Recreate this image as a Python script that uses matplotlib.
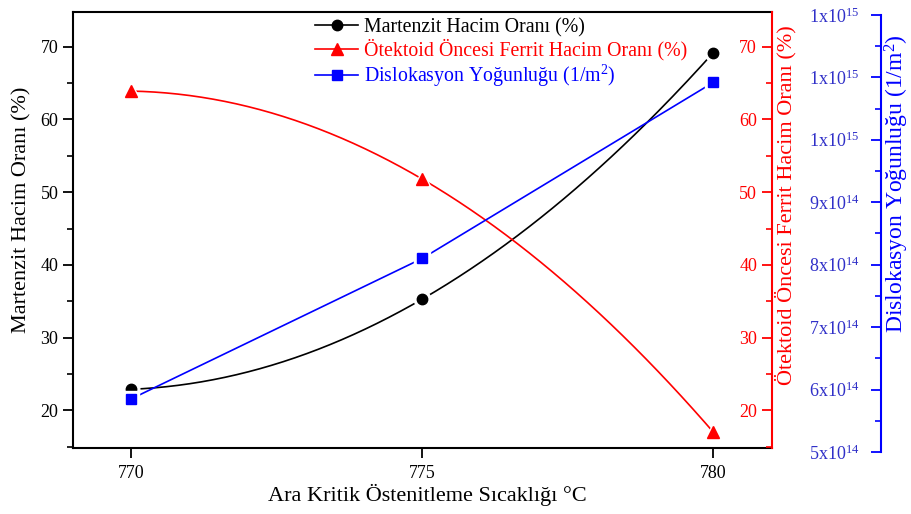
"""
Interkritik ostenitleme sicakligina gore martenzit / ferrit hacim orani
ve dislokasyon yogunlugu - uc eksenli grafik.
"""

import numpy as np
import matplotlib
matplotlib.use("Agg")
import matplotlib.pyplot as plt
from matplotlib.ticker import MultipleLocator, FuncFormatter

plt.rcParams["font.family"] = ["Liberation Serif", "DejaVu Serif"]
plt.rcParams["mathtext.fontset"] = "custom"
plt.rcParams["mathtext.rm"] = "Liberation Serif"
plt.rcParams["mathtext.it"] = "Liberation Serif:italic"

# ---------------------------------------------------------------------------
# Data
# ---------------------------------------------------------------------------
temps = [770, 775, 780]
martensite = [22.9, 35.3, 69.2]            # %
ferrite = [63.9, 51.8, 17.0]               # %
dislocation = [5.85e14, 8.1e14, 1.092e15]  # 1/m^2

LBL_M = "Martenzit Hacim Oranı (%)"
LBL_F = "Ötektoid Öncesi Ferrit Hacim Oranı (%)"
LBL_D = "Dislokasyon Yoğunluğu (1/m$^2$)"
XLABEL = "Ara Kritik Östenitleme Sıcaklığı °C"

RED = "#ff0000"
BLUE = "#0000ff"
FS = 13

# axes geometry (figure fractions)
AX_L, AX_W = 0.080, 0.767
BLUE_SPINE_X = 1.157   # blue spine position, in axes fractions


def smooth(x, y, n=200):
    """Quadratic curve through the three points (spline-like connection)."""
    c = np.polyfit(x, y, 2)
    xs = np.linspace(min(x), max(x), n)
    return xs, np.polyval(c, xs)


def sci_fmt(v, _pos):
    e = int(np.floor(np.log10(v) + 1e-9))
    m = v / 10 ** e
    return f"{m:.0f}x10$^{{{e}}}$"


def place_label(axis, x, y):
    """Put an axis label with its centre at (x, y) in axes fractions."""
    axis.set_label_coords(x, y)
    axis.label.set_va("center")
    axis.label.set_ha("center")


fig = plt.figure(figsize=(9.11, 5.14), dpi=100)
ax = fig.add_axes([AX_L, 0.128, AX_W, 0.849])
ax_r = fig.add_axes([AX_L, 0.128, AX_W, 0.849], sharex=ax)
ax_b = fig.add_axes([AX_L, 0.1206, AX_W, 0.8504], sharex=ax)

# --- lines
xs, ys = smooth(temps, martensite)
ax.plot(xs, ys, color="black", lw=1.2, zorder=2)
xs, ys = smooth(temps, ferrite)
ax_r.plot(xs, ys, color=RED, lw=1.2, zorder=2)
ax_b.plot(temps, dislocation, color=BLUE, lw=1.2, zorder=2)

# --- white halos so lines stop short of the markers
ax.plot(temps, martensite, "o", color="white", ms=12, zorder=3)
ax_r.plot(temps, ferrite, "^", color="white", ms=13, zorder=3)
ax_b.plot(temps, dislocation, "s", color="white", ms=11, zorder=3)

# --- markers
ax.plot(temps, martensite, "o", color="black", ms=7.5, zorder=4)
ax_r.plot(temps, ferrite, "^", color=RED, ms=8.5, zorder=4)
ax_b.plot(temps, dislocation, "s", color=BLUE, ms=6.5, zorder=5)

# --- main (left) axis
ax.set_xlim(769, 781)
ax.set_ylim(14.8, 74.8)
ax.xaxis.set_major_locator(MultipleLocator(5))
ax.yaxis.set_major_locator(MultipleLocator(10))
ax.yaxis.set_minor_locator(MultipleLocator(5))
ax.tick_params(axis="both", which="major", length=7, width=1.3, labelsize=FS)
ax.tick_params(axis="y", which="minor", length=4, width=1.2)
ax.tick_params(axis="x", which="major", pad=5)
ax.set_ylabel(LBL_M, fontsize=16)
place_label(ax.yaxis, -0.073, 0.546)
ax.set_xlabel(XLABEL, fontsize=16)
place_label(ax.xaxis, 0.508, -0.108)
for s in ax.spines.values():
    s.set_linewidth(1.5)
ax.spines["right"].set_visible(False)

# --- red axis: spine on the right edge, ticks and labels inside the plot
ax_r.set_ylim(14.8, 74.8)
ax_r.patch.set_alpha(0)
ax_r.spines["left"].set_position(("axes", 1.0))
ax_r.yaxis.set_major_locator(MultipleLocator(10))
ax_r.yaxis.set_minor_locator(MultipleLocator(5))
ax_r.tick_params(axis="y", which="major", length=7, width=1.3,
                 labelsize=FS, colors=RED)
ax_r.tick_params(axis="y", which="minor", length=4, width=1.2, colors=RED)
ax_r.tick_params(axis="x", which="both", bottom=False, labelbottom=False)
ax_r.spines["left"].set_color(RED)
ax_r.spines["left"].set_linewidth(1.5)
for side in ("right", "top", "bottom"):
    ax_r.spines[side].set_visible(False)
ax_r.set_ylabel(LBL_F, fontsize=16, color=RED)
place_label(ax_r.yaxis, 1.020, 0.557)

# --- blue axis: separate spine further right, labels to its left
ax_b.set_ylim(5e14, 1.2e15)
ax_b.patch.set_alpha(0)
ax_b.spines["left"].set_position(("axes", BLUE_SPINE_X))
ax_b.yaxis.set_major_locator(MultipleLocator(1e14))
ax_b.yaxis.set_minor_locator(MultipleLocator(5e13))
ax_b.yaxis.set_major_formatter(FuncFormatter(sci_fmt))
ax_b.tick_params(axis="y", which="major", length=7, width=1.3,
                 labelsize=FS, colors=BLUE, labelcolor="#3030c8", pad=9)
ax_b.tick_params(axis="y", which="minor", length=4, width=1.2, colors=BLUE)
ax_b.tick_params(axis="x", which="both", bottom=False, labelbottom=False)
for side in ("right", "top", "bottom"):
    ax_b.spines[side].set_visible(False)
ax_b.spines["left"].set_color(BLUE)
ax_b.spines["left"].set_linewidth(1.5)
ax_b.set_ylabel(LBL_D, fontsize=17, color=BLUE)
place_label(ax_b.yaxis, 1.179, 0.613)

# --- legend
handles = [
    plt.Line2D([], [], color="black", marker="o", ms=7.5, lw=1.2),
    plt.Line2D([], [], color=RED, marker="^", ms=8.5, lw=1.2),
    plt.Line2D([], [], color=BLUE, marker="s", ms=6.5, lw=1.2),
]
leg = ax_b.legend(handles, [LBL_M, LBL_F, LBL_D], loc="upper center",
                  bbox_to_anchor=(0.613, 1.02), frameon=False, fontsize=14.3,
                  handlelength=2.2, handletextpad=0.3, labelspacing=0.1,
                  borderaxespad=0.2)
for txt, col in zip(leg.get_texts(), ["black", RED, BLUE]):
    txt.set_color(col)

fig.savefig("out.png", dpi=100)
